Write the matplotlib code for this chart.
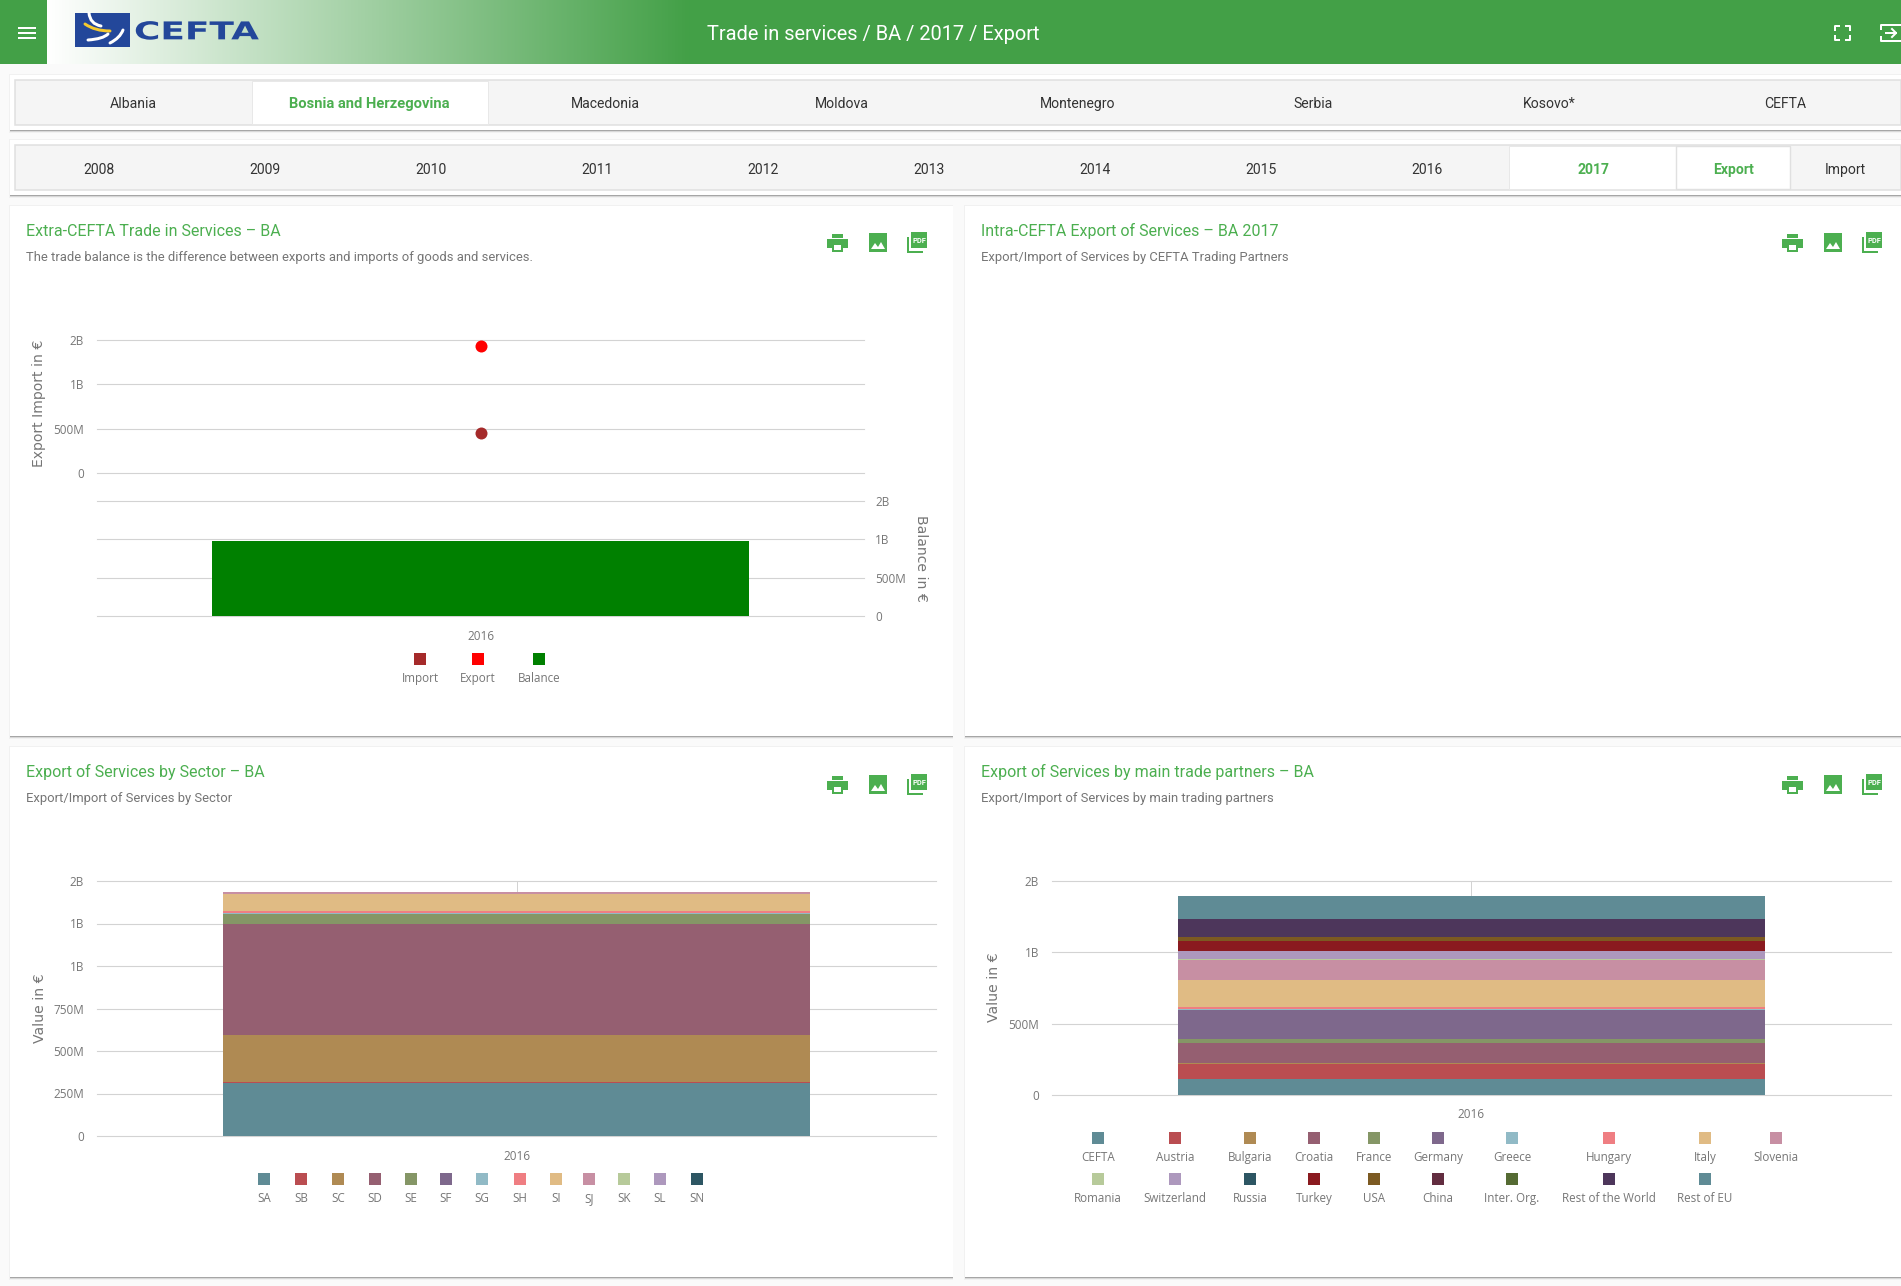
import numpy as np
import matplotlib
matplotlib.use('Agg')
import matplotlib.pyplot as plt
import matplotlib.patheffects as pe
from matplotlib.patches import Rectangle, Polygon, PathPatch
from matplotlib.path import Path
from matplotlib.transforms import Affine2D

W, H = 1901, 1286
PX = 0.72  # points per pixel at dpi=100

GREEN = '#43a047'
TITLE_GREEN = '#4caf50'
GRID = '#d3d3d3'
GREY = '#767676'

# data, in millions of euro
YEARS = ['2016']
IMPORT = [451]
EXPORT = [1432]
BALANCE = [981]

TRADE_TICKS = [0, 500, 1000, 1500]
TRADE_LABELS = ['0', '500M', '1B', '2B']

SECTORS = ['SA', 'SB', 'SC', 'SD', 'SE', 'SF', 'SG', 'SH', 'SI', 'SJ', 'SK', 'SL', 'SN']
SECTOR_VALUES = [312, 6, 278, 651, 59, 1, 6, 12, 100, 12, 0.5, 0.5, 0.2]
SECTOR_TICKS = [0, 250, 500, 750, 1000, 1250, 1500]
SECTOR_LABELS = ['0', '250M', '500M', '750M', '1B', '1B', '2B']

PARTNERS = ['CEFTA', 'Austria', 'Bulgaria', 'Croatia', 'France', 'Germany', 'Greece',
            'Hungary', 'Italy', 'Slovenia', 'Romania', 'Switzerland', 'Russia', 'Turkey',
            'USA', 'China', 'Inter. Org.', 'Rest of the World', 'Rest of EU']
PARTNER_VALUES = [112, 105, 7, 140, 28, 203, 7, 14, 189, 140, 7, 56, 0.5, 70, 30, 0.5, 0.5, 124, 161]
PARTNER_TICKS = [0, 500, 1000, 1500]
PARTNER_LABELS = ['0', '500M', '1B', '2B']

PALETTE = ['#5f8b95', '#ba4d51', '#af8a53', '#955f71', '#859666', '#7e688c', '#91bac6',
           '#ef7e82', '#e0bb84', '#c78fa3', '#b7ca9a', '#ad98bd', '#2d5663', '#8a1a1f',
           '#7c5a22', '#622d40', '#556b33', '#4d365b', '#5f8b95']

COUNTRIES = ['Albania', 'Bosnia and Herzegovina', 'Macedonia', 'Moldova', 'Montenegro',
             'Serbia', 'Kosovo*', 'CEFTA']
TAB_YEARS = ['2008', '2009', '2010', '2011', '2012', '2013', '2014', '2015', '2016', '2017']

plt.rcParams['font.family'] = ['Roboto', 'DejaVu Sans']


class StretchX(pe.AbstractPathEffect):
    # widens the logo lettering, the text stays text
    def __init__(self, sx):
        super().__init__()
        self.sx = sx

    def draw_path(self, renderer, gc, tpath, affine, rgbFace=None):
        renderer.draw_path(gc, tpath, Affine2D().scale(self.sx, 1) + affine, rgbFace)


fig = plt.figure(figsize=(W / 100, H / 100), dpi=100, facecolor='#fafafa')
chrome = fig.add_axes([0, 0, 1, 1])
chrome.set_xlim(0, W)
chrome.set_ylim(H, 0)
chrome.axis('off')


def rect(x0, y0, x1, y1, color, **kw):
    chrome.add_patch(Rectangle((x0, y0), x1 - x0, y1 - y0, facecolor=color,
                               edgecolor=kw.pop('edge', 'none'), lw=kw.pop('lw', 0), **kw))


def label(x, y, s, size=14, color='#333333', ha='center', weight='normal', family=None):
    return chrome.text(x, y + 0.36 * size, s, fontsize=size * PX, color=color, ha=ha, va='baseline',
                       weight=weight, family=family)


def card(x0, y0, x1, y1):
    rect(x0 - 1, y0 - 1, x1, y1 + 3, '#f1f1f1')
    rect(x0, y0 + 2, x1, y1 + 2, '#d8d8d8')
    rect(x0, y0 + 1, x1, y1 + 1, '#a6a6a6')
    rect(x0, y0, x1, y1, 'white')


def curve(pts, color, lw):
    codes = [Path.MOVETO] + [Path.CURVE3] * (len(pts) - 1)
    chrome.add_patch(PathPatch(Path(pts, codes), facecolor='none', edgecolor=color,
                               lw=lw * PX, capstyle='round', zorder=3))


# header
rect(0, 0, W, 64, GREEN)
ramp = np.linspace(0, 1, 256).reshape(1, -1, 1)
white = np.array([1.0, 1.0, 1.0]).reshape(1, 1, 3)
green = np.array(matplotlib.colors.to_rgb(GREEN)).reshape(1, 1, 3)
chrome.imshow(white + (green - white) * ramp, extent=(47, 690, 64, 0), aspect='auto', zorder=1)
chrome.set_xlim(0, W)
chrome.set_ylim(H, 0)
for y in [28, 33, 38]:
    rect(18, y - 1, 36, y + 1, 'white', zorder=2)

rect(75, 13, 130, 47, '#23479a', zorder=2)
curve([(89, 13), (90, 24), (101, 26)], 'white', 3)
curve([(85, 24), (95, 31), (110, 31)], '#f5c92e', 3)
curve([(88, 40), (103, 39), (108, 34)], 'white', 3)
curve([(110, 43), (120, 38), (123, 30)], 'white', 3)
logo = label(134, 30.5, 'CEFTA', size=24.6, color='#23479a', ha='left', weight='bold', family='DejaVu Sans')
logo.set_path_effects([StretchX(1.46)])
logo.set_zorder(2)

label(873, 33, 'Trade in services / BA / 2017 / Export', size=20, color='white').set_zorder(2)

# fullscreen and exit icons
for pts in [[(1835, 30), (1835, 26), (1839, 26)], [(1846, 26), (1850, 26), (1850, 30)],
            [(1835, 36), (1835, 40), (1839, 40)], [(1846, 40), (1850, 40), (1850, 36)]]:
    chrome.plot(*zip(*pts), color='white', lw=2 * PX, zorder=2)
chrome.plot([1881, 1881, 1901], [29, 25, 25], color='white', lw=2 * PX, zorder=2)
chrome.plot([1881, 1881, 1901], [37, 41, 41], color='white', lw=2 * PX, zorder=2)
chrome.plot([1886, 1896], [33, 33], color='white', lw=2 * PX, zorder=2)
chrome.plot([1892, 1896, 1892], [29, 33, 37], color='white', lw=2 * PX, zorder=2)

# country tabs
card(10, 75, W, 130)
rect(15, 80, W, 125, '#f5f5f5', edge='#e0e0e0', lw=1.1)
rect(251.5, 81, 488, 124, 'white', edge='#e8e8e8', lw=0.7)
for i, name in enumerate(COUNTRIES):
    on = name == 'Bosnia and Herzegovina'
    label(133.5 + i * 236, 103, name, size=14.7 if on else 14,
          color=TITLE_GREEN if on else '#333333', weight='bold' if on else 'normal')

# year tabs
card(10, 140, W, 195)
rect(15, 145, W, 190, '#f5f5f5', edge='#e0e0e0', lw=1.1)
rect(1509, 146, 1676, 189, 'white', edge='#e8e8e8', lw=0.7)
rect(1676, 146, 1790, 189, 'white', edge='#e0e0e0', lw=1.0)
for i, name in enumerate(TAB_YEARS):
    on = name == '2017'
    label(99 + i * 166, 169, name, color=TITLE_GREEN if on else '#333333',
          weight='bold' if on else 'normal')
label(1733, 169, 'Export', size=14, color=TITLE_GREEN, weight='bold')
label(1845, 169, 'Import')


def icons(dx, dy):
    g = TITLE_GREEN
    # print
    rect(827 + dx, 239 + dy, 848 + dx, 248 + dy, g)
    rect(832 + dx, 234 + dy, 843 + dx, 238 + dy, g)
    rect(832 + dx, 244 + dy, 843 + dx, 252 + dy, g)
    rect(834 + dx, 245 + dy, 841 + dx, 250 + dy, 'white')
    # image
    rect(869 + dx, 233 + dy, 887 + dx, 252 + dy, g)
    chrome.add_patch(Polygon([(871 + dx, 249 + dy), (875 + dx, 243 + dy), (878 + dx, 247 + dy),
                              (881 + dx, 242 + dy), (885 + dx, 249 + dy)], facecolor='white', lw=0))
    # pdf
    rect(907 + dx, 237 + dy, 923 + dx, 253 + dy, g)
    rect(909 + dx, 235 + dy, 925 + dx, 251 + dy, 'white')
    rect(911 + dx, 232 + dy, 927 + dx, 248 + dy, g)
    label(919 + dx, 240 + dy, 'PDF', size=7.5, color='white', weight='bold')


def panel(x0, y0, x1, y1, title, sub, dx, dy):
    card(x0, y0, x1, y1)
    label(26 + dx, 230 + dy, title, size=16, color=TITLE_GREEN, ha='left')
    label(26 + dx, 256 + dy, sub, size=13, color='#757575', ha='left')
    icons(dx, dy + (1 if dy else 0))


panel(10, 206, 953, 736, 'Extra-CEFTA Trade in Services \u2013 BA',
      'The trade balance is the difference between exports and imports of goods and services.', 0, 0)
panel(965, 206, W, 736, 'Intra-CEFTA Export of Services \u2013 BA 2017',
      'Export/Import of Services by CEFTA Trading Partners', 955, 0)
panel(10, 747, 953, 1277, 'Export of Services by Sector \u2013 BA',
      'Export/Import of Services by Sector', 0, 541)
panel(965, 747, W, 1277, 'Export of Services by main trade partners \u2013 BA',
      'Export/Import of Services by main trading partners', 955, 541)


def chart_axes(x0, y0, x1, y1, ymax, ticks, ticklabels, right=False):
    ax = fig.add_axes([x0 / W, 1 - y1 / H, (x1 - x0) / W, (y1 - y0) / H])
    ax.patch.set_alpha(0)
    ax.set_xlim(-0.5, 0.5)
    ax.set_ylim(0, ymax)
    for s in ax.spines.values():
        s.set_visible(False)
    ax.set_axisbelow(True)
    ax.grid(axis='y', color=GRID, lw=1.1 * PX)
    ax.set_yticks(ticks)
    ax.set_yticklabels(ticklabels, family='Open Sans', fontsize=11.8 * PX, color=GREY)
    ax.tick_params(axis='y', length=0, pad=(11 if right else 13) * PX)
    for line in ax.get_ygridlines():
        line.set_clip_on(False)
    if right:
        ax.yaxis.tick_right()
    ax.set_xticks([])
    return ax


def year_ticks(ax):
    ax.set_xticks(np.arange(len(YEARS)))
    ax.set_xticklabels(YEARS, family='Open Sans', fontsize=11.8 * PX, color=GREY)
    ax.tick_params(axis='x', length=0, pad=13.5 * PX)


def ylabel(ax, s, x, y, rotation=90):
    ax.set_ylabel(s, family='DejaVu Sans', fontsize=14 * PX, color=GREY, rotation=rotation,
                  va='center', ha='center')
    ax.yaxis.set_label_coords(x, y, transform=chrome.transData)


def legend(items, colors, xs, y):
    for name, c, x in zip(items, colors, xs):
        rect(x - 6, y, x + 6, y + 12, c)
        label(x, y + 25, name, size=11.6, color=GREY, family='Open Sans')


# trade panel, dots on top and balance bar below
top = chart_axes(97, 340, 864, 473, 1500, TRADE_TICKS, TRADE_LABELS)
top.plot(np.arange(len(YEARS)), EXPORT, 'o', color='#ff0000', ms=12 * PX, mew=0, clip_on=False)
top.plot(np.arange(len(YEARS)), IMPORT, 'o', color='#a52a2a', ms=12 * PX, mew=0, clip_on=False)
ylabel(top, 'Export Import in \u20ac', 39.5, 403)

low = chart_axes(97, 501, 864, 616, 1500, TRADE_TICKS, TRADE_LABELS, right=True)
low.bar(np.arange(len(YEARS)), BALANCE, width=0.7, color='#008000')
year_ticks(low)
low.yaxis.set_label_position('right')
ylabel(low, 'Balance in \u20ac', 921, 558, rotation=270)
legend(['Import', 'Export', 'Balance'], ['#a52a2a', '#ff0000', '#008000'], [420, 478, 539], 653)


def stacked(ax, values):
    ax.axvline(0, color=GRID, lw=1 * PX, zorder=0)
    bottom = 0
    for value, c in zip(values, PALETTE):
        ax.bar(np.arange(len(YEARS)), [value], width=0.7, bottom=bottom, color=c)
        bottom += value


# sector panel
sec = chart_axes(97, 881, 936, 1136, 1500, SECTOR_TICKS, SECTOR_LABELS)
stacked(sec, SECTOR_VALUES)
year_ticks(sec)
ylabel(sec, 'Value in \u20ac', 39.5, 1008)
sector_x = [264, 301, 338, 375, 411, 446, 482, 520, 556, 589, 624, 660, 697]
legend(SECTORS, PALETTE, sector_x, 1173)

# partner panel
par = chart_axes(1052, 881, 1890.5, 1095, 1500, PARTNER_TICKS, PARTNER_LABELS)
stacked(par, PARTNER_VALUES)
year_ticks(par)
ylabel(par, 'Value in \u20ac', 994, 987)
partner_x = [1098, 1175, 1250, 1314, 1374, 1438, 1512, 1609, 1705, 1776]
legend(PARTNERS[:10], PALETTE[:10], partner_x, 1132)
legend(PARTNERS[10:], PALETTE[10:], partner_x, 1173)

fig.savefig('out.png', dpi=100, facecolor=fig.get_facecolor())
